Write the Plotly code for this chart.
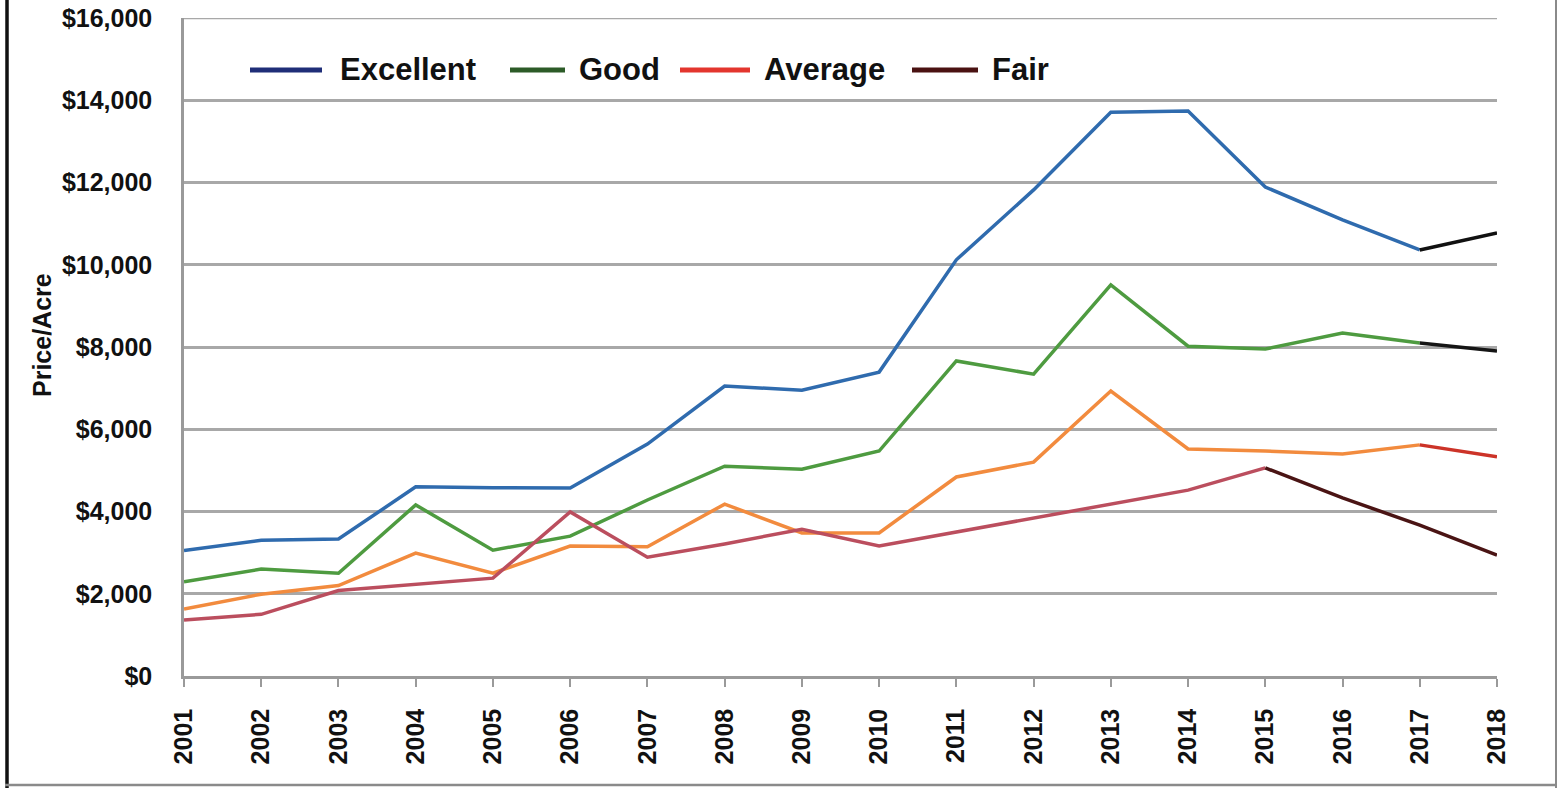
import plotly.graph_objects as go

years = list(range(2001, 2019))
year_labels = [str(y) for y in years]

excellent = [3050, 3300, 3330, 4600, 4580, 4570, 5640, 7050, 6950, 7390,
             10120, 11820, 13710, 13740, 11890, 11090, 10360, 10770]
good = [2290, 2600, 2500, 4160, 3060, 3400, 4280, 5100, 5030, 5470,
        7660, 7340, 9510, 8020, 7950, 8340, 8100, 7900]
average = [1630, 1990, 2200, 2990, 2500, 3160, 3140, 4180, 3480, 3480,
           4840, 5200, 6930, 5520, 5470, 5400, 5620, 5330]
fair = [1360, 1500, 2080, 2240, 2380, 3990, 2890, 3210, 3570, 3160,
        3500, 3840, 4160, 4520, 5060, 4330, 3670, 2940]

y_ticks = [0, 2000, 4000, 6000, 8000, 10000, 12000, 14000, 16000]
y_tick_text = ["$0", "$2,000", "$4,000", "$6,000", "$8,000", "$10,000",
               "$12,000", "$14,000", "$16,000"]

series_names = ["Excellent", "Good", "Average", "Fair"]
series_values = [excellent, good, average, fair]
main_colors = ["#2F6BAE", "#4E9B40", "#F28B3E", "#BB4E5E"]
end_colors = ["#111111", "#151515", "#CC3328", "#4A1414"]
split_index = [16, 16, 16, 14]
legend_colors = ["#1F2E78", "#2C5B28", "#E3352E", "#4A1212"]

# layout geometry (page body margin is removed by post_script)
FIG_W, FIG_H = 1559, 788
ML, MR, MT, MB = 184, 62, 18, 112
PW = FIG_W - ML - MR
PH = FIG_H - MT - MB


def px(sx):
    # screen x -> paper x
    return (sx - ML) / PW


def py(sy):
    # screen y -> paper y
    return (FIG_H - MB - sy) / PH


fig = go.Figure()

for vals, col, split, end_col in zip(series_values, main_colors, split_index, end_colors):
    fig.add_trace(go.Scatter(x=years[:split + 1], y=vals[:split + 1], mode="lines",
                             line=dict(color=col, width=3.5), showlegend=False,
                             hoverinfo="skip"))
    fig.add_trace(go.Scatter(x=years[split:], y=vals[split:], mode="lines",
                             line=dict(color=end_col, width=3.5), showlegend=False,
                             hoverinfo="skip"))

FONT = "Liberation Sans, Arial, sans-serif"

# legend drawn as shapes + annotations
legend_pos = [(250, 322, 338), (510, 565, 577), (680, 750, 762), (912, 978, 990)]
legend_y = 70
shapes = []
annotations = []
for name, lc, (x0, x1, tx) in zip(series_names, legend_colors, legend_pos):
    shapes.append(dict(type="line", xref="paper", yref="paper",
                       x0=px(x0), x1=px(x1), y0=py(legend_y), y1=py(legend_y),
                       line=dict(color=lc, width=5)))
    annotations.append(dict(text=name, xref="paper", yref="paper", x=px(tx),
                            y=py(legend_y), xanchor="left", yanchor="middle",
                            showarrow=False,
                            font=dict(family=FONT, size=31, color="#111111",
                                      weight="bold")))

# y axis title
annotations.append(dict(text="Price/Acre", xref="paper", yref="paper",
                        x=px(42), y=py(335), xanchor="center", yanchor="middle",
                        textangle=-90, showarrow=False,
                        font=dict(family=FONT, size=25, color="#111111",
                                  weight="bold")))

# top gridline at 16,000
shapes.append(dict(type="line", xref="paper", yref="y", x0=0, x1=1,
                   y0=y_ticks[-1], y1=y_ticks[-1],
                   line=dict(color="#A8A8A8", width=2.5)))

# frame around the picture
shapes.append(dict(type="line", xref="paper", yref="paper",
                   x0=px(7), x1=px(7), y0=py(790), y1=py(-2),
                   line=dict(color="#111111", width=3.5)))
shapes.append(dict(type="line", xref="paper", yref="paper",
                   x0=px(1556), x1=px(1556), y0=py(790), y1=py(-2),
                   line=dict(color="#8A8A8A", width=2)))
shapes.append(dict(type="line", xref="paper", yref="paper",
                   x0=px(5), x1=px(1557), y0=py(785), y1=py(785),
                   line=dict(color="#8A8A8A", width=2.5)))

fig.update_layout(
    width=FIG_W, height=FIG_H,
    margin=dict(l=ML, r=MR, t=MT, b=MB, autoexpand=False),
    paper_bgcolor="white", plot_bgcolor="white",
    font=dict(family=FONT, color="#111111"),
    showlegend=False,
    xaxis=dict(range=[2001, 2018], tickmode="array", tickvals=years,
               ticktext=year_labels, tickangle=-90, showgrid=False,
               showline=True, linecolor="#9A9A9A", linewidth=2.5,
               ticks="outside", ticklen=8, tickwidth=2, tickcolor="#9A9A9A",
               ticklabelstandoff=12, ticklabeloverflow="allow", automargin=False,
               tickfont=dict(family=FONT, size=25, weight="bold", color="#111111"),
               zeroline=False, fixedrange=True),
    yaxis=dict(range=[0, 16000], tickmode="array", tickvals=y_ticks,
               ticktext=y_tick_text, showgrid=True, gridcolor="#A8A8A8",
               gridwidth=2.5, showline=True, linecolor="#9A9A9A", linewidth=2.5,
               ticks="", ticklabelstandoff=24, ticklabeloverflow="allow",
               automargin=False,
               tickfont=dict(family=FONT, size=25, weight="bold", color="#111111"),
               zeroline=False, fixedrange=True),
    shapes=shapes,
    annotations=annotations,
)

fig.write_html("out.html", config={"displayModeBar": False},
               post_script="document.body.style.margin='0px';"
                           "document.body.style.overflow='hidden';")
